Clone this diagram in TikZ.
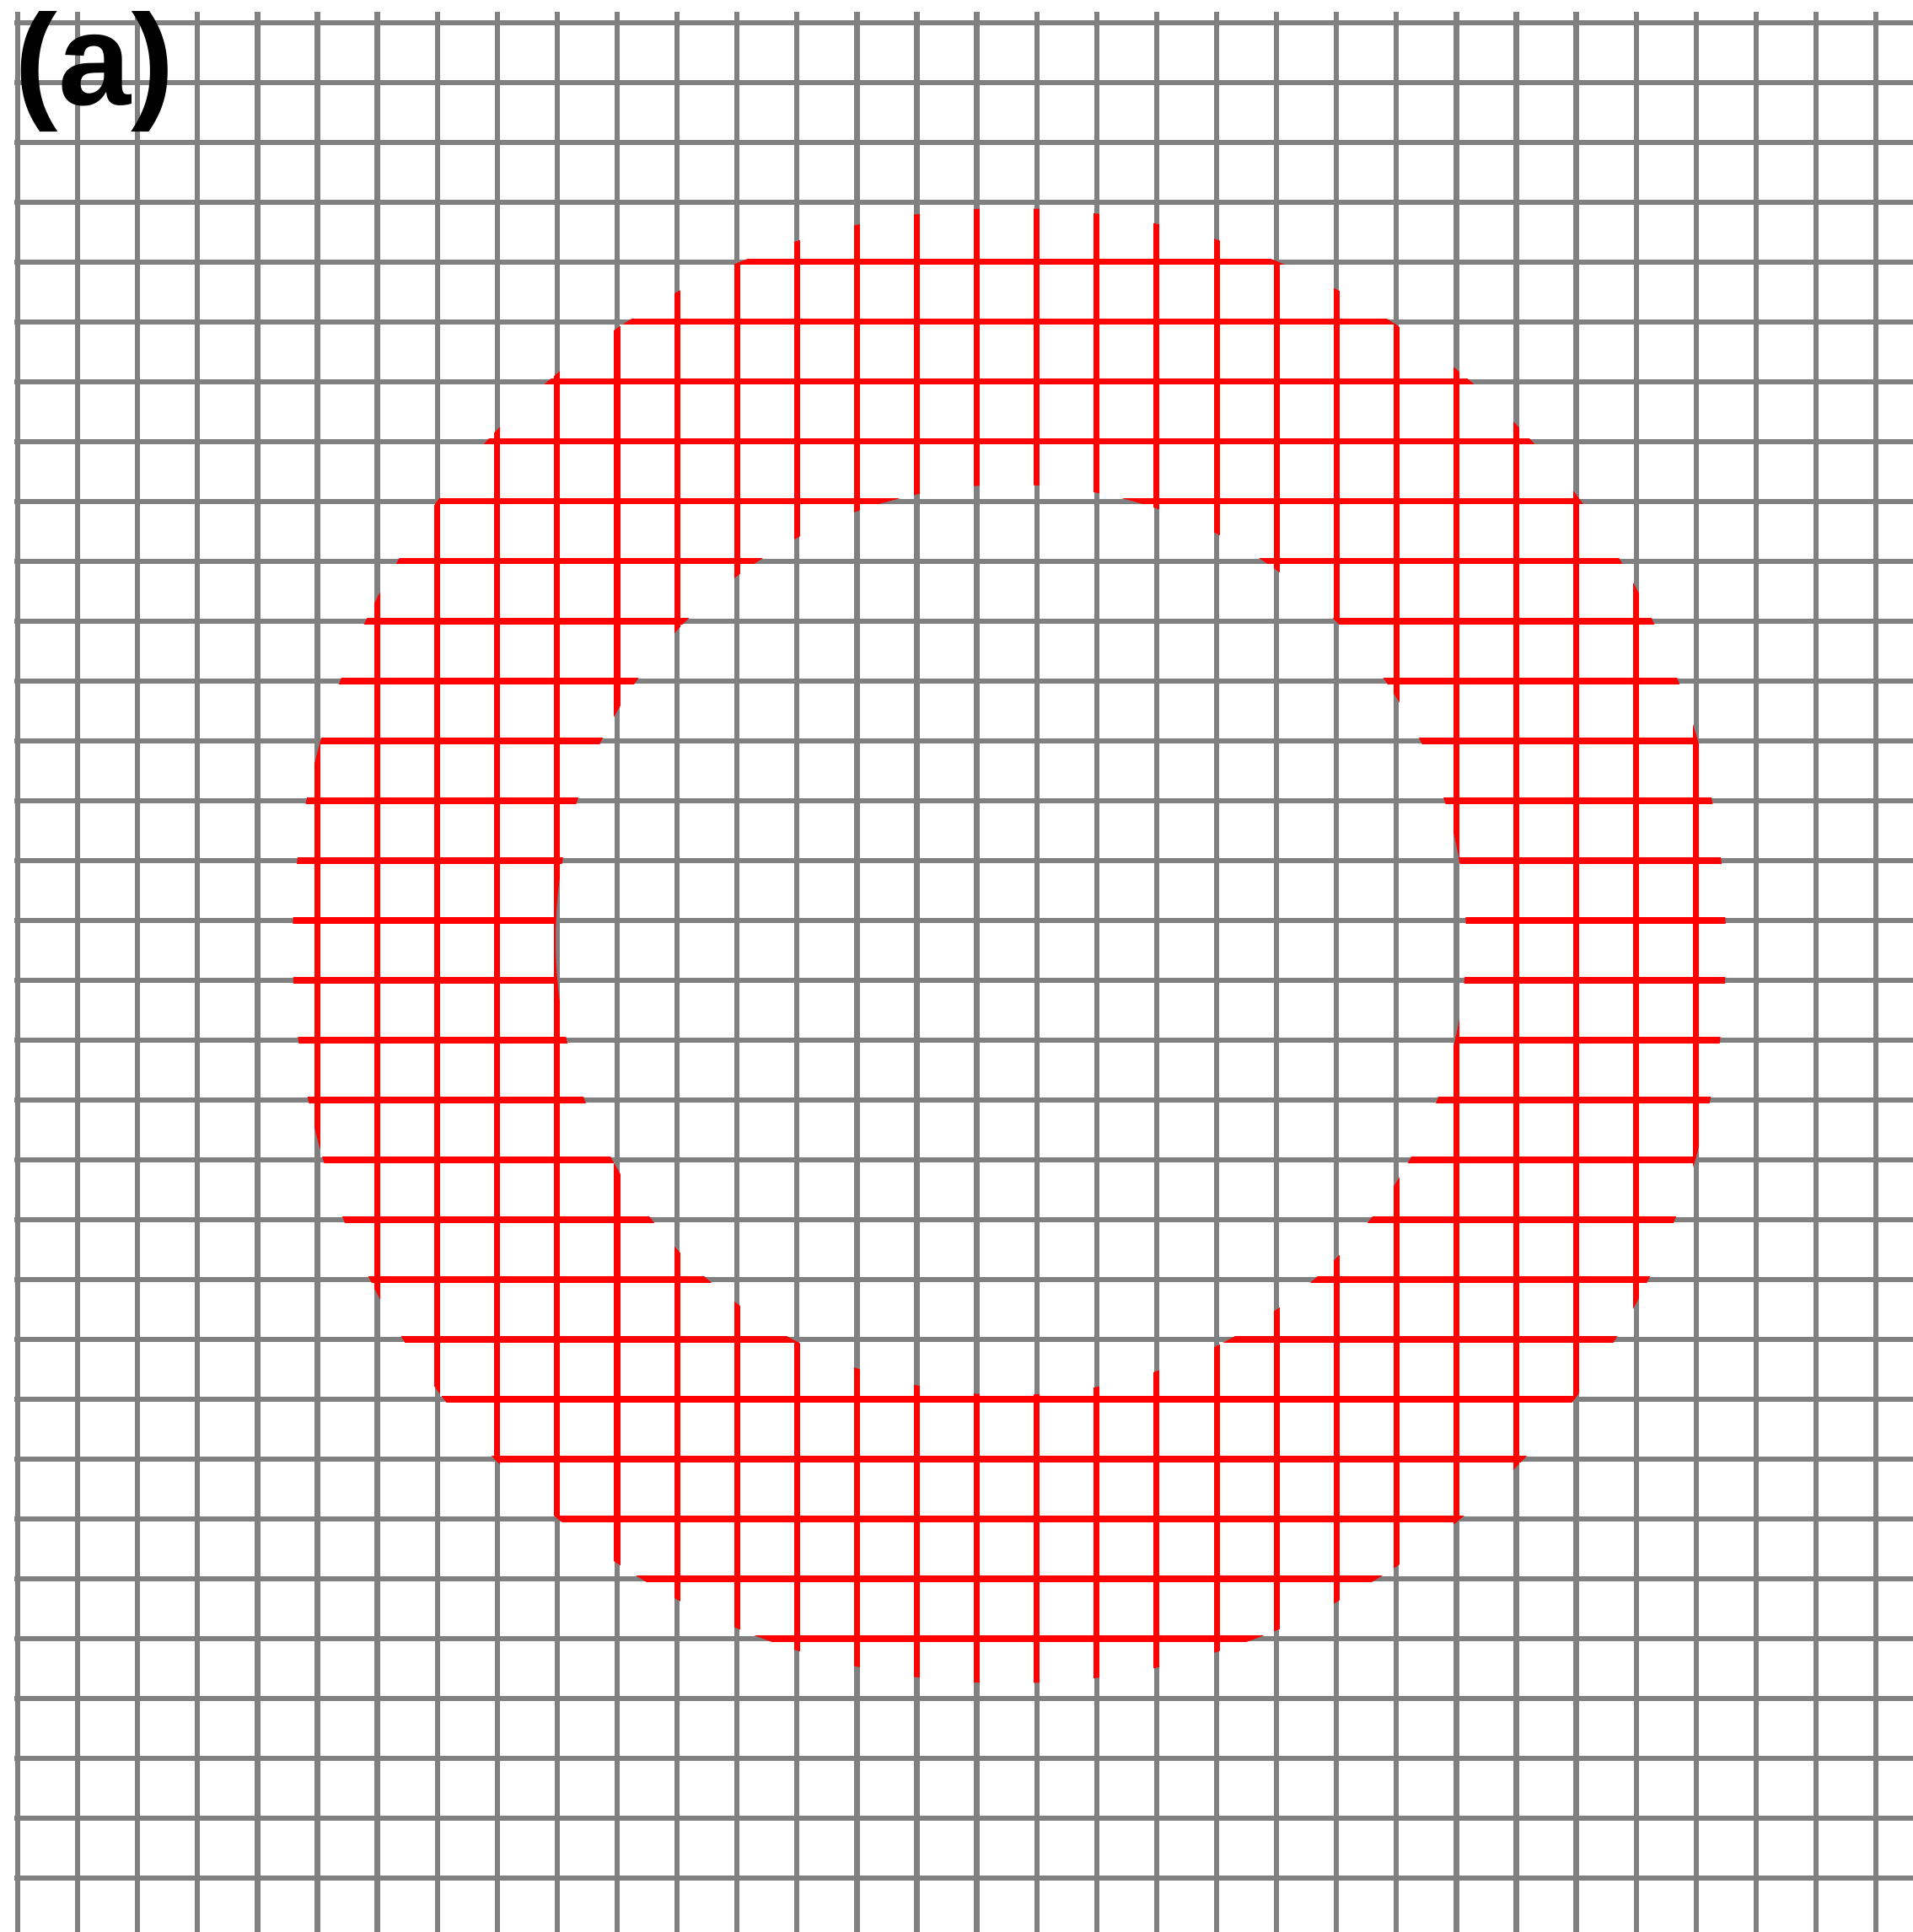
\documentclass[tikz,border=0pt]{standalone}
\usepackage{fontspec}
\setmainfont{Liberation Sans}
\definecolor{ngrid}{HTML}{808080}
\definecolor{nring}{HTML}{FF0000}
\tikzset{
  gridline/.style={draw=ngrid, line width=1.8pt},
  ringline/.style={draw=nring, line width=2pt},
  lbl/.style={font=\fontsize{44}{44}\selectfont\bfseries, inner sep=0pt, anchor=base west},
}

\begin{document}
\begin{tikzpicture}
  \useasboundingbox (0,0) rectangle (22.69,22.92);
  \begin{scope}
    \clip (0.17,0) rectangle (22.69,22.78);
    % grey mesh
    \foreach \i in {0,...,31}
      \draw[gridline] ({0.21+0.711*\i},0) -- ++(0,22.78);
    \foreach \j in {0,...,31}
      \draw[gridline] (0.17,{22.65-0.71*\j}) -- ++(22.52,0);
    % red ring of cells
    \begin{scope}[even odd rule]
      \clip (11.97,11.70) ellipse [x radius=8.50, y radius=8.75]
            (11.99,11.77) circle [radius=5.40];
      \foreach \i in {0,...,31}
        \draw[ringline] ({0.21+0.711*\i},0) -- ++(0,22.78);
      \foreach \j in {0,...,31}
        \draw[ringline] (0.17,{22.65-0.71*\j}) -- ++(22.52,0);
    \end{scope}
    \node[lbl] (tag) at (0.17,21.67) {(a)};
  \end{scope}
\end{tikzpicture}
\end{document}
